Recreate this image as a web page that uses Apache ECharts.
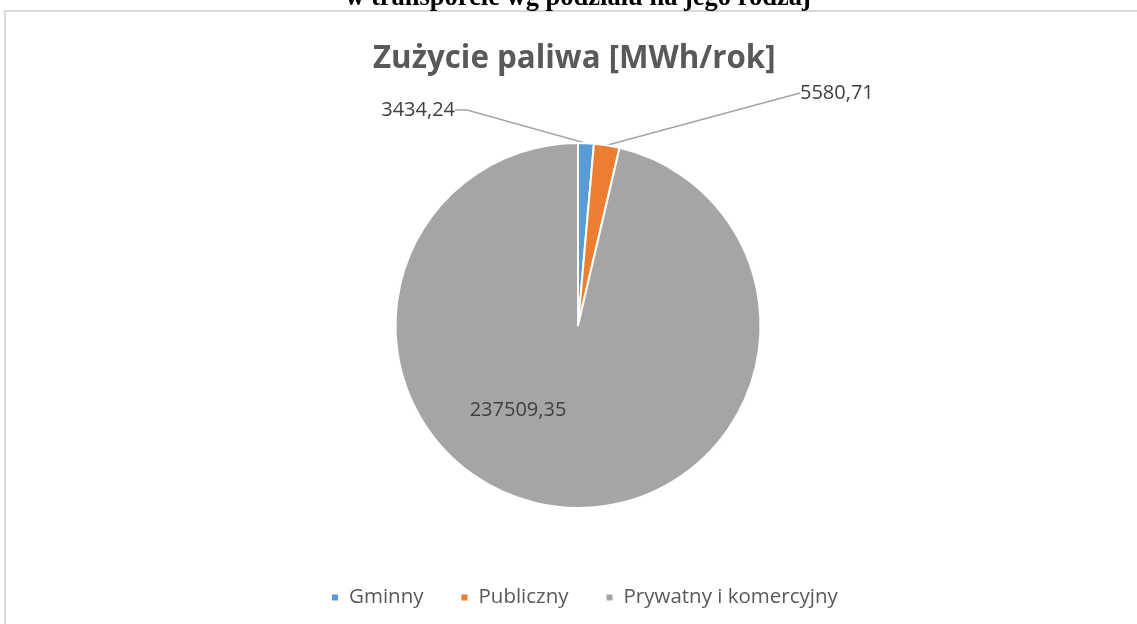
<!DOCTYPE html>
<html>
<head>
<meta charset="utf-8">
<script src="https://cdn.jsdelivr.net/npm/echarts@6/dist/echarts.min.js"></script>
<style>
  html, body { margin: 0; padding: 0; background: #fff; }
  #chart { width: 1137px; height: 624px; }
</style>
</head>
<body>
<div id="chart"></div>
<script>
// dane z wykresu
const categories = ['Gminny', 'Publiczny', 'Prywatny i komercyjny']
const values = [3434.24, 5580.71, 237509.35]
const colors = ['#5B9BD5', '#ED7D31', '#A5A5A5']

const chart = echarts.init(document.getElementById('chart'))

const fmt = v => v.toFixed(2).replace('.', ',')

// pozycje etykiet jak w oryginale (Excel)
const labelPlaces = [
  { x: 455, y: 110, align: 'right', verticalAlign: 'middle' },
  { x: 800, y: 93, align: 'left', verticalAlign: 'middle' },
  { x: 518, y: 410, align: 'center', verticalAlign: 'middle' }
]
const stubs = [12, 0, 0]

const option = {
  backgroundColor: '#fff',
  textStyle: { fontFamily: '"Open Sans", sans-serif' },
  title: {
    text: 'Zużycie paliwa [MWh/rok]',
    left: 368,
    top: 39,
    textStyle: { fontSize: 31.3, fontWeight: 'bold', color: '#595959', fontFamily: '"Open Sans", sans-serif' }
  },
  graphic: [
    {
      type: 'rect',
      z: -1,
      silent: true,
      shape: { x: 5, y: 11, width: 1200, height: 700 },
      style: { fill: 'none', stroke: '#d9d9d9', lineWidth: 2 }
    },
    {
      type: 'text',
      silent: true,
      x: 578,
      y: 12,
      style: {
        text: 'w transporcie wg podziału na jego rodzaj',
        font: 'bold 26.5px "Liberation Serif", serif',
        fill: '#000',
        align: 'center',
        verticalAlign: 'bottom'
      }
    }
  ],
  legend: {
    data: categories,
    left: 325,
    top: 582,
    icon: 'rect',
    itemWidth: 8,
    itemHeight: 8,
    itemGap: 36,
    textStyle: { fontSize: 20.5, color: '#595959', padding: [0, 0, 0, 5] }
  },
  series: [{
    type: 'pie',
    center: [578, 325.5],
    radius: 182.5,
    startAngle: 90,
    clockwise: true,
    avoidLabelOverlap: false,
    silent: true,
    itemStyle: { borderColor: '#fff', borderWidth: 2 },
    label: {
      show: true,
      position: 'outside',
      fontSize: 20,
      color: '#404040',
      formatter: p => fmt(p.value)
    },
    labelLine: {
      show: true,
      length: 15,
      lineStyle: { color: '#a5a5a5', width: 1.5 }
    },
    labelLayout: p => labelPlaces[p.dataIndex],
    data: categories.map((name, i) => ({
      name,
      value: values[i],
      itemStyle: { color: colors[i] },
      label: i === 2 ? { position: 'inside' } : undefined,
      labelLine: i === 2 ? { show: false } : { length2: stubs[i] }
    }))
  }]
}

chart.setOption(option)
</script>
</body>
</html>
